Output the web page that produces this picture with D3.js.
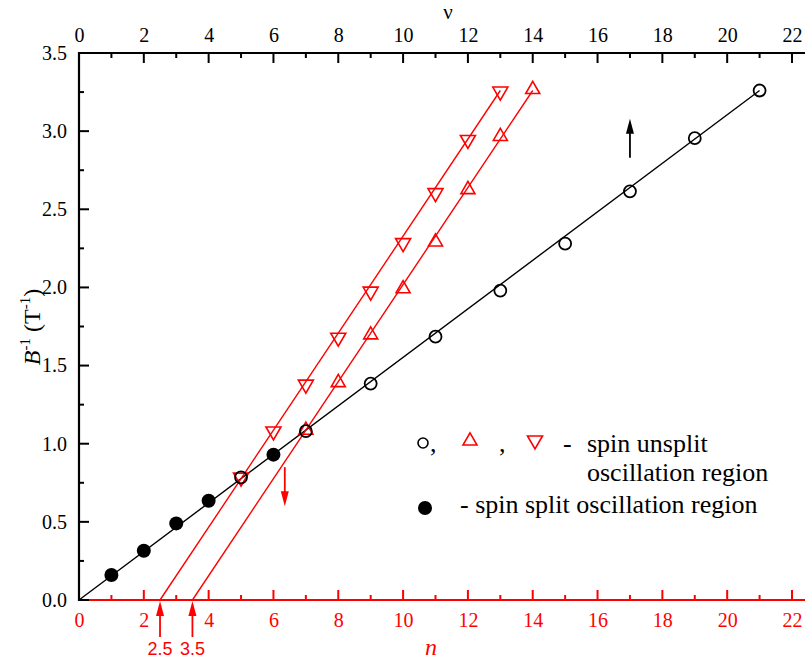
<!DOCTYPE html>
<html>
<head>
<meta charset="utf-8">
<script src="https://cdn.jsdelivr.net/npm/d3@7"></script>
</head>
<body style="margin:0;background:#fff">
<svg id="chart" width="805" height="659" style="display:block"></svg>
<script>
// Filling factor ν (top axis) vs inverse field, black series
const nuOpen = [5, 7, 9, 11, 13, 15, 17, 19, 21];
const bInvOpen = [0.785, 1.08, 1.385, 1.685, 1.98, 2.28, 2.615, 2.955, 3.26];
const nuFilled = [1, 2, 3, 4, 6];
const bInvFilled = [0.16, 0.315, 0.49, 0.635, 0.93];
const circleFit = [[0, 0], [21, 3.26]];

// Landau level index n (bottom axis), red series
const nUp = [7, 8, 9, 10, 11, 12, 13, 14];
const bInvUp = [1.08, 1.385, 1.69, 1.985, 2.285, 2.62, 2.96, 3.26];
const upFit = [[3.5, 0], [14, 3.26]];
const nDown = [5, 6, 7, 8, 9, 10, 11, 12, 13];
const bInvDown = [0.78, 1.075, 1.375, 1.675, 1.97, 2.28, 2.60, 2.94, 3.25];
const downFit = [[2.5, 0], [13, 3.26]];

const xTicks = [0, 2, 4, 6, 8, 10, 12, 14, 16, 18, 20, 22];
const yTicks = [0.0, 0.5, 1.0, 1.5, 2.0, 2.5, 3.0, 3.5];
const interceptLabels = ["2.5", "3.5"];
const intercepts = [2.5, 3.5];

const RED = "#ff0000";
const SERIF = "Liberation Serif";
const SANS = "Liberation Sans";
const svg = d3.select("#chart");

const x = d3.scaleLinear().domain([0, 22]).range([79, 792]);
const y = d3.scaleLinear().domain([0, 3.5]).range([600, 53]);
const xMinor = d3.range(1, 23, 2);
const yMinor = d3.range(0.25, 3.5, 0.5);

function styleTicks(g, color) {
  g.attr("font-family", SERIF).attr("font-size", 20);
  g.select(".domain").remove();
  g.selectAll("text").attr("fill", color).attr("font-family", SERIF).attr("font-size", 20);
}

// Bottom axis: n (red), ticks inward
const axBottom = svg.append("g").attr("transform", "translate(0,600)");
axBottom.call(d3.axisBottom(x).tickValues(xTicks).tickFormat(d3.format("d")).tickSize(0).tickPadding(13));
styleTicks(axBottom, RED);
axBottom.append("line").attr("x1", 79).attr("x2", 805).attr("stroke", RED).attr("stroke-width", 2.2);
axBottom.selectAll(".maj").data(xTicks).join("line").attr("class", "maj")
  .attr("x1", d => x(d)).attr("x2", d => x(d)).attr("y1", 0).attr("y2", -10)
  .attr("stroke", RED).attr("stroke-width", 2);
axBottom.selectAll(".min").data(xMinor).join("line").attr("class", "min")
  .attr("x1", d => x(d)).attr("x2", d => x(d)).attr("y1", 0).attr("y2", -5)
  .attr("stroke", RED).attr("stroke-width", 2);

// Top axis: ν (black), ticks inward
const axTop = svg.append("g").attr("transform", "translate(0,53)");
axTop.call(d3.axisTop(x).tickValues(xTicks).tickFormat(d3.format("d")).tickSize(0).tickPadding(11));
styleTicks(axTop, "#000");
axTop.append("line").attr("x1", 78).attr("x2", 805).attr("stroke", "#000").attr("stroke-width", 2.2);
axTop.selectAll(".maj").data(xTicks).join("line").attr("class", "maj")
  .attr("x1", d => x(d)).attr("x2", d => x(d)).attr("y1", 0).attr("y2", 10)
  .attr("stroke", "#000").attr("stroke-width", 2);
axTop.selectAll(".min").data(xMinor).join("line").attr("class", "min")
  .attr("x1", d => x(d)).attr("x2", d => x(d)).attr("y1", 0).attr("y2", 5)
  .attr("stroke", "#000").attr("stroke-width", 2);

// Left axis: B^-1, ticks inward
const axLeft = svg.append("g").attr("transform", "translate(79,0)");
axLeft.call(d3.axisLeft(y).tickValues(yTicks).tickFormat(d3.format(".1f")).tickSize(0).tickPadding(12));
styleTicks(axLeft, "#000");
axLeft.append("line").attr("y1", 52).attr("y2", 601).attr("stroke", "#000").attr("stroke-width", 2.2);
axLeft.selectAll(".maj").data(yTicks).join("line").attr("class", "maj")
  .attr("y1", d => y(d)).attr("y2", d => y(d)).attr("x1", 0).attr("x2", 10)
  .attr("stroke", "#000").attr("stroke-width", 2);
axLeft.selectAll(".min").data(yMinor).join("line").attr("class", "min")
  .attr("y1", d => y(d)).attr("y2", d => y(d)).attr("x1", 0).attr("x2", 5)
  .attr("stroke", "#000").attr("stroke-width", 2);

// Axis titles
svg.append("text").attr("x", 448).attr("y", 19).attr("text-anchor", "middle")
  .attr("font-family", SERIF).attr("font-size", 21).text("ν");
svg.append("text").attr("x", 431).attr("y", 655).attr("text-anchor", "middle")
  .attr("fill", RED).attr("font-family", SERIF).attr("font-size", 24).attr("font-style", "italic").text("n");

const yl = svg.append("text").attr("transform", "translate(40,327) rotate(-90)")
  .attr("text-anchor", "middle").attr("font-family", SERIF).attr("font-size", 24);
yl.append("tspan").attr("font-style", "italic").text("B");
yl.append("tspan").attr("dy", -10).attr("font-size", 15).text("-1");
yl.append("tspan").attr("dy", 10).text(" (T");
yl.append("tspan").attr("dy", -10).attr("font-size", 15).text("-1");
yl.append("tspan").attr("dy", 10).text(")");

// Fit lines
const line = d3.line().x(d => x(d[0])).y(d => y(d[1]));
svg.append("path").attr("d", line(circleFit)).attr("stroke", "#000").attr("stroke-width", 1.4).attr("fill", "none");
svg.append("path").attr("d", line(upFit)).attr("stroke", RED).attr("stroke-width", 1.4).attr("fill", "none");
svg.append("path").attr("d", line(downFit)).attr("stroke", RED).attr("stroke-width", 1.4).attr("fill", "none");

// Markers
const triUp = d3.symbol().type(d3.symbolTriangle).size(85);
const triDown = "M-7.5,-5 L7.5,-5 L0,8 Z";
svg.selectAll(".up").data(nUp).join("path").attr("class", "up")
  .attr("d", triUp()).attr("transform", (d, i) => `translate(${x(d)},${y(bInvUp[i]) - 1})`)
  .attr("fill", "none").attr("stroke", RED).attr("stroke-width", 1.6);
svg.selectAll(".down").data(nDown).join("path").attr("class", "down")
  .attr("d", triDown).attr("transform", (d, i) => `translate(${x(d)},${y(bInvDown[i])})`)
  .attr("fill", "none").attr("stroke", RED).attr("stroke-width", 1.6);
svg.selectAll(".open").data(nuOpen).join("circle").attr("class", "open")
  .attr("cx", d => x(d)).attr("cy", (d, i) => y(bInvOpen[i])).attr("r", 6)
  .attr("fill", "none").attr("stroke", "#000").attr("stroke-width", 1.8);
svg.selectAll(".filled").data(nuFilled).join("circle").attr("class", "filled")
  .attr("cx", d => x(d)).attr("cy", (d, i) => y(bInvFilled[i])).attr("r", 7)
  .attr("fill", "#000");

// Arrows
function arrow(x0, y0, y1, color) {
  const dir = y1 < y0 ? 1 : -1;
  svg.append("line").attr("x1", x0).attr("x2", x0).attr("y1", y0).attr("y2", y1 + dir * 12)
    .attr("stroke", color).attr("stroke-width", 1.8);
  svg.append("path")
    .attr("d", `M${x0},${y1} L${x0 - 4},${y1 + dir * 15} L${x0 + 4},${y1 + dir * 15} Z`)
    .attr("fill", color);
}
arrow(x(17), y(2.83), y(3.08), "#000");
arrow(x(6.35), y(0.85), y(0.6), RED);
intercepts.forEach(v => arrow(x(v), 637, 601, RED));
svg.selectAll(".icpt").data(intercepts).join("text").attr("class", "icpt")
  .attr("x", d => x(d)).attr("y", 655).attr("text-anchor", "middle")
  .attr("fill", RED).attr("font-family", SANS).attr("font-size", 18)
  .text((d, i) => interceptLabels[i]);

// Legend
const lg = svg.append("g");
const lgText = (tx, ty, s) => lg.append("text").attr("x", tx).attr("y", ty)
  .attr("font-family", SERIF).attr("font-size", 26).text(s);
lg.append("circle").attr("cx", 423).attr("cy", 443).attr("r", 5).attr("fill", "none").attr("stroke", "#000").attr("stroke-width", 1.6);
lgText(430, 452, ",");
lg.append("path").attr("d", triUp()).attr("transform", "translate(470,441)").attr("fill", "none").attr("stroke", RED).attr("stroke-width", 1.6);
lgText(499, 452, ",");
lg.append("path").attr("d", triDown).attr("transform", "translate(535,441)").attr("fill", "none").attr("stroke", RED).attr("stroke-width", 1.6);
lgText(563, 452, "-");
lgText(587, 452, "spin unsplit");
lgText(587, 481, "oscillation region");
lg.append("circle").attr("cx", 425).attr("cy", 508).attr("r", 7).attr("fill", "#000");
lgText(460, 513, "- spin split oscillation region");
</script>
</body>
</html>
